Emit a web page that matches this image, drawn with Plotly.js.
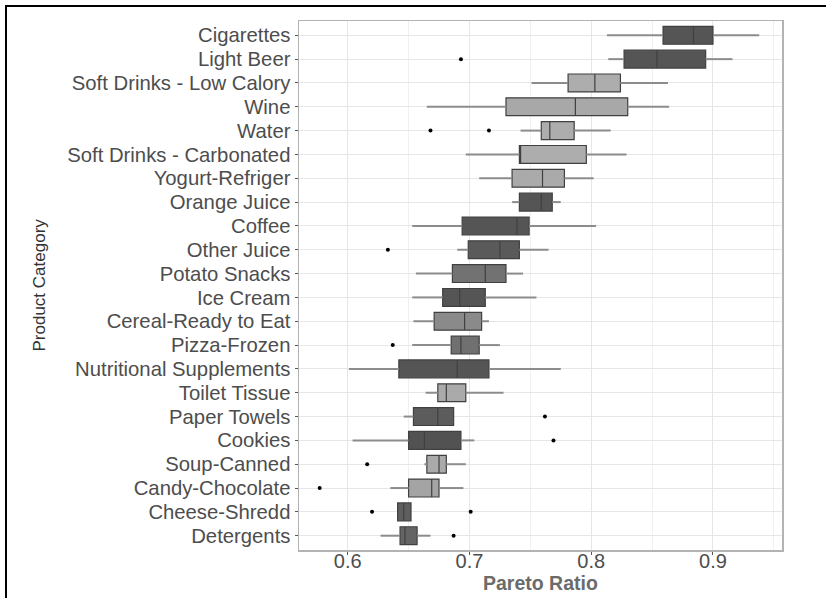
<!DOCTYPE html>
<html>
<head>
<meta charset="utf-8">
<script src="https://cdn.plot.ly/plotly-3.0.1.min.js"></script>
<style>
  html, body { margin: 0; padding: 0; background: #ffffff; }
  #wrap { position: relative; width: 826px; height: 598px; overflow: hidden; }
  #chart { position: absolute; left: 0; top: 0; width: 826px; height: 598px; }
  #frame { position: absolute; left: 5px; top: 5px; width: 830px; height: 600px;
           border-left: 2px solid #000; border-top: 2px solid #000; pointer-events: none; }
</style>
</head>
<body>
<div id="wrap">
  <div id="chart"></div>
  <div id="frame"></div>
</div>
<script>
// ---- data ----
const categories = [
  "Cigarettes", "Light Beer", "Soft Drinks - Low Calory", "Wine", "Water",
  "Soft Drinks - Carbonated", "Yogurt-Refriger", "Orange Juice", "Coffee",
  "Other Juice", "Potato Snacks", "Ice Cream", "Cereal-Ready to Eat",
  "Pizza-Frozen", "Nutritional Supplements", "Toilet Tissue", "Paper Towels",
  "Cookies", "Soup-Canned", "Candy-Chocolate", "Cheese-Shredd", "Detergents"
];
const lowerWhisker = [0.813, 0.814, 0.751, 0.665, 0.742, 0.697, 0.708, 0.735, 0.653, 0.690, 0.656, 0.653, 0.654, 0.653, 0.601, 0.664, 0.646, 0.604, 0.663, 0.635, 0.641, 0.627];
const q1Values     = [0.859, 0.827, 0.781, 0.730, 0.759, 0.741, 0.735, 0.741, 0.694, 0.699, 0.686, 0.678, 0.671, 0.685, 0.642, 0.674, 0.654, 0.650, 0.665, 0.650, 0.641, 0.643];
const medianValues = [0.884, 0.854, 0.803, 0.787, 0.766, 0.742, 0.760, 0.759, 0.739, 0.725, 0.713, 0.692, 0.696, 0.693, 0.690, 0.681, 0.674, 0.663, 0.675, 0.669, 0.646, 0.647];
const q3Values     = [0.900, 0.894, 0.824, 0.830, 0.786, 0.796, 0.778, 0.768, 0.749, 0.741, 0.730, 0.713, 0.710, 0.708, 0.716, 0.697, 0.687, 0.693, 0.681, 0.675, 0.652, 0.657];
const upperWhisker = [0.938, 0.916, 0.863, 0.864, 0.816, 0.829, 0.802, 0.775, 0.804, 0.765, 0.744, 0.755, 0.716, 0.725, 0.775, 0.728, 0.687, 0.704, 0.697, 0.695, 0.652, 0.668];
const outlierCategories = ["Light Beer", "Water", "Water", "Other Juice", "Pizza-Frozen", "Paper Towels", "Cookies", "Soup-Canned", "Candy-Chocolate", "Cheese-Shredd", "Cheese-Shredd", "Detergents"];
const outlierValues     = [0.693, 0.668, 0.716, 0.633, 0.637, 0.762, 0.769, 0.616, 0.577, 0.620, 0.701, 0.687];
const tickValues = [0.6, 0.7, 0.8, 0.9];
const tickLabels = ["0.6", "0.7", "0.8", "0.9"];

// ---- styles ----
const boxFills = [
  "#555555", "#555555", "#adadad", "#a8a8a8", "#adadad", "#adadad", "#aaaaaa",
  "#555555", "#555555", "#5a5a5a", "#727272", "#555555", "#8a8a8a", "#707070",
  "#555555", "#aaaaaa", "#5c5c5c", "#525252", "#aaaaaa", "#a4a4a4", "#5e5e5e", "#646464"
];

const traces = [];
// whiskers
const wx = [], wy = [];
categories.forEach((c, i) => {
  wx.push(lowerWhisker[i], q1Values[i], null, q3Values[i], upperWhisker[i], null);
  wy.push(c, c, null, c, c, null);
});
traces.push({
  type: "scatter", mode: "lines", x: wx, y: wy,
  line: { color: "#8c8c8c", width: 2 }, hoverinfo: "skip", showlegend: false
});
// boxes
categories.forEach((c, i) => {
  traces.push({
    type: "box", orientation: "h", name: c,
    y: [c], q1: [q1Values[i]], median: [medianValues[i]], q3: [q3Values[i]],
    lowerfence: [q1Values[i]], upperfence: [q3Values[i]],
    fillcolor: boxFills[i], width: 0.75, whiskerwidth: 0,
    line: { color: "#404040", width: 1.2 }, boxpoints: false, showlegend: false
  });
});
// outliers
traces.push({
  type: "scatter", mode: "markers", x: outlierValues, y: outlierCategories,
  marker: { color: "#000000", size: 4 }, showlegend: false
});

const layout = {
  width: 826, height: 598,
  margin: { l: 299, r: 44, t: 21, b: 48 },
  paper_bgcolor: "#ffffff", plot_bgcolor: "#ffffff",
  showlegend: false, boxmode: "overlay",
  font: { family: "Liberation Sans, Arial, sans-serif", color: "#4d4d4d" },
  xaxis: {
    range: [0.5600, 0.9567], tickmode: "array", tickvals: tickValues, ticktext: tickLabels,
    ticks: "outside", ticklen: 3, tickcolor: "#555555", ticklabelstandoff: -11,
    tickfont: { size: 20, color: "#4d4d4d" },
    showgrid: true, gridcolor: "#e6e6e6", gridwidth: 1,
    minor: { dtick: 0.05, tick0: 0.55, showgrid: true, gridcolor: "#f0f0f0", gridwidth: 1 },
    showline: true, mirror: true, linecolor: "#b3b3b3", linewidth: 1.5,
    zeroline: false
  },
  yaxis: {
    type: "category", categoryorder: "array", categoryarray: categories,
    tickmode: "array", tickvals: categories, ticktext: categories,
    range: [21.6, -0.6],
    ticks: "outside", ticklen: 3, tickcolor: "#555555",
    tickfont: { size: 20.3, color: "#4d4d4d" },
    showgrid: true, gridcolor: "#e6e6e6", gridwidth: 1,
    showline: true, mirror: true, linecolor: "#b3b3b3", linewidth: 1.5,
    zeroline: false
  },
  annotations: [
    {
      text: "Product Category", xref: "paper", yref: "paper",
      x: (39 - 299) / 483, y: 0.5, textangle: -90, showarrow: false,
      xanchor: "center", yanchor: "middle",
      font: { size: 17, color: "#333333" }
    },
    {
      text: "<b>Pareto Ratio</b>", xref: "paper", yref: "paper",
      x: 0.5, y: (550 - 583) / 529, showarrow: false,
      xanchor: "center", yanchor: "middle",
      font: { size: 19.5, color: "#6b6b6b" }
    }
  ]
};

Plotly.newPlot("chart", traces, layout, { displayModeBar: false, staticPlot: true });
</script>
</body>
</html>
